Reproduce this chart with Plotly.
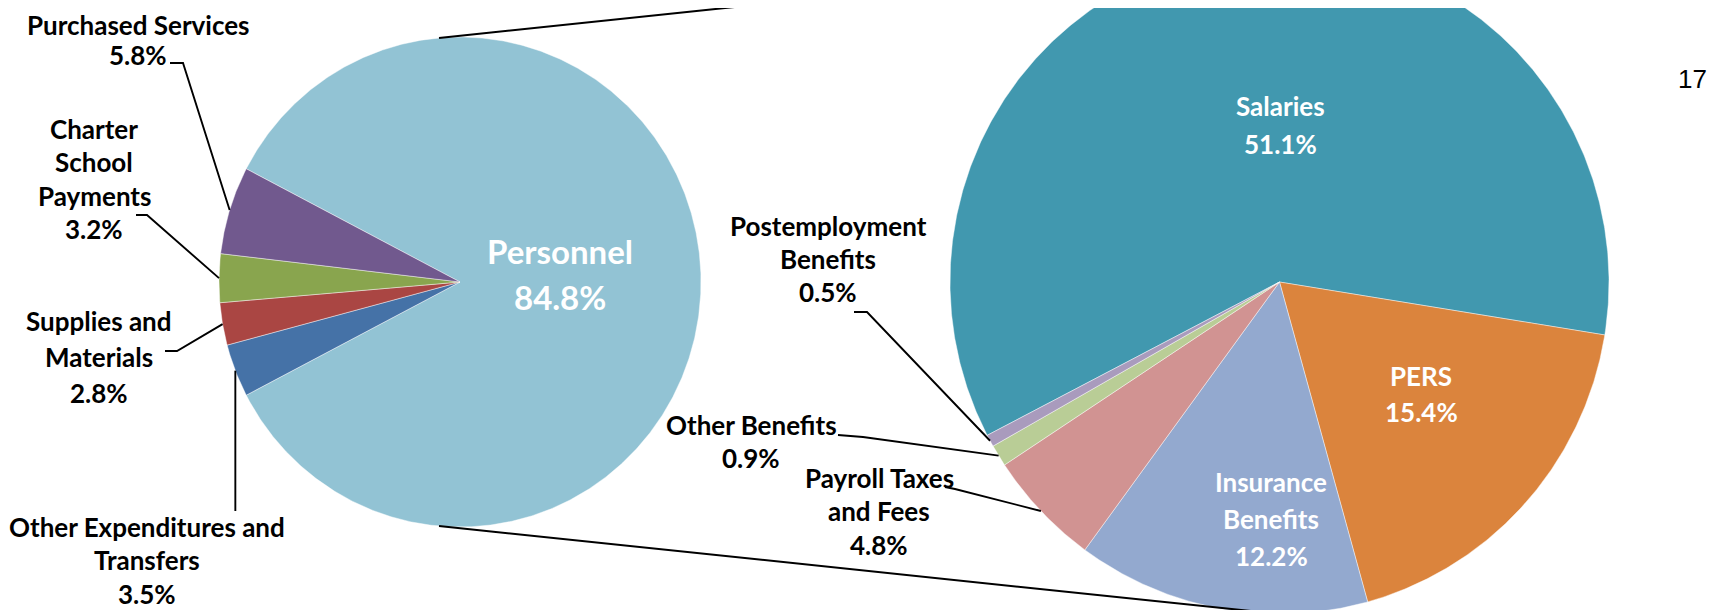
import numpy as np
import plotly.graph_objects as go

# ---------------- data ----------------
main_labels = ["Personnel", "Other Expenditures and Transfers", "Supplies and Materials",
               "Charter School Payments", "Purchased Services"]
main_values = [84.8, 3.5, 2.8, 3.2, 5.8]

sub_labels = ["Salaries", "PERS", "Insurance Benefits", "Payroll Taxes and Fees",
              "Other Benefits", "Postemployment Benefits"]
sub_values = [51.1, 15.4, 12.2, 4.8, 0.9, 0.5]

page_number = "17"

# ---------------- styling / layout ----------------
PAGE_W, PAGE_H = 1719, 610
BODY = 8                      # default page margin of the html body
W, H = PAGE_W - BODY, PAGE_H - BODY

main_colors = ["#92C3D4", "#4572A7", "#AA4643", "#89A54E", "#71598E"]
sub_colors = ["#4198AF", "#DB843D", "#93A9CF", "#D19392", "#B9CD96", "#A99BBD"]

LEFT = dict(cx=460, cy=282, rx=241, ry=245)
RIGHT = dict(cx=1279.5, cy=282, rx=329.5, ry=332, start=242.5)

FONT = "Lato"
FS = 26

# line breaks + position (center x, first baseline, line step, size, color) in page pixels
label_style = {
    "Personnel": dict(lines=["Personnel"], x=560, y0=264, dy=46, size=33, color="white"),
    "Purchased Services": dict(lines=["Purchased Services"], x=138, y0=35, dy=30),
    "Charter School Payments": dict(lines=["Charter", "School", "Payments"], x=94, y0=139, dy=33.5),
    "Supplies and Materials": dict(lines=["Supplies and", "Materials"], x=99, y0=331, dy=36),
    "Other Expenditures and Transfers": dict(lines=["Other Expenditures and", "Transfers"], x=147, y0=537, dy=33.5),
    "Salaries": dict(lines=["Salaries"], x=1280, y0=116, dy=38, color="white"),
    "PERS": dict(lines=["PERS"], x=1421, y0=386, dy=36, color="white"),
    "Insurance Benefits": dict(lines=["Insurance", "Benefits"], x=1271, y0=492, dy=37, color="white"),
    "Payroll Taxes and Fees": dict(lines=["Payroll Taxes", "and Fees"], x=879, y0=488, dy=33.5),
    "Other Benefits": dict(lines=["Other Benefits"], x=751, y0=435, dy=33),
    "Postemployment Benefits": dict(lines=["Postemployment", "Benefits"], x=828, y0=236, dy=33),
}

# leader-line anchor points near the label (start, knee); end is on the slice edge
leaders = {
    "Purchased Services": [(170, 63), (183, 63)],
    "Charter School Payments": [(136, 215), (147, 215)],
    "Supplies and Materials": [(165, 351), (177, 351)],
    "Other Expenditures and Transfers": "vertical:511",
    "Postemployment Benefits": [(854, 312), (867, 312)],
    "Other Benefits": [(838, 435), (863, 437)],
    "Payroll Taxes and Fees": [(945, 487), (955, 489)],
}


def pt(c, ang):
    t = np.radians(ang)
    return c["cx"] + c["rx"] * np.sin(t), c["cy"] - c["ry"] * np.cos(t)


def slices(values, start):
    tot = sum(values)
    out = []
    a = start
    for v in values:
        span = 360.0 * v / tot
        out.append((a, a + span))
        a += span
    return out


fig = go.Figure()


def add_pie(c, labels, values, colors, start):
    angs = slices(values, start)
    mids = {}
    for lab, (a0, a1), col in zip(labels, angs, colors):
        n = max(int((a1 - a0) / 0.4), 3)
        th = np.linspace(a0, a1, n)
        xs, ys = pt(c, th)
        X = np.concatenate([[c["cx"]], xs, [c["cx"]]])
        Y = np.concatenate([[c["cy"]], ys, [c["cy"]]])
        fig.add_trace(go.Scatter(x=X, y=Y, mode="lines", fill="toself", fillcolor=col,
                                 line=dict(color="rgba(255,255,255,0.55)", width=0.8),
                                 hoverinfo="text", text=lab, showlegend=False))
        mids[lab] = (a0 + a1) / 2
    return mids


main_total = sum(main_values)
left_start = 90 - 180.0 * main_values[0] / main_total
mids_left = add_pie(LEFT, main_labels, main_values, main_colors, left_start)
mids_right = add_pie(RIGHT, sub_labels, sub_values, sub_colors, RIGHT["start"])

# connector lines between the two pies
for a_left, a_right in [(355, 0), (185, 180)]:
    x0, y0 = pt(LEFT, a_left)
    x1, y1 = pt(RIGHT, a_right)
    fig.add_trace(go.Scatter(x=[x0, x1], y=[y0, y1], mode="lines",
                             line=dict(color="black", width=2), hoverinfo="skip", showlegend=False))

# leader lines
for lab, spec in leaders.items():
    if lab in mids_left:
        ex, ey = pt(LEFT, mids_left[lab])
    else:
        ex, ey = pt(RIGHT, mids_right[lab])
    if isinstance(spec, str):
        ybot = float(spec.split(":")[1])
        xs, ys = [ex, ex], [ybot, ey]
    else:
        xs = [p[0] for p in spec] + [ex]
        ys = [p[1] for p in spec] + [ey]
    fig.add_trace(go.Scatter(x=xs, y=ys, mode="lines", line=dict(color="black", width=1.9),
                             hoverinfo="skip", showlegend=False))

# labels
values_by_label = dict(zip(main_labels, main_values))
values_by_label.update(dict(zip(sub_labels, sub_values)))
annotations = []
for lab, st in label_style.items():
    size = st.get("size", FS)
    color = st.get("color", "black")
    lines = st["lines"] + [f"{values_by_label[lab]:.1f}%"]
    for i, ln in enumerate(lines):
        base = st["y0"] + i * st["dy"]
        annotations.append(dict(x=st["x"], y=base - 0.387 * size, xref="x", yref="y",
                                text=f"<b>{ln}</b>", showarrow=False,
                                xanchor="center", yanchor="middle",
                                font=dict(family=FONT, size=size, color=color)))

annotations.append(dict(x=1692, y=79, xref="x", yref="y", text=page_number, showarrow=False,
                        xanchor="center", yanchor="middle",
                        font=dict(family="Liberation Sans, Arial", size=26, color="black")))

fig.update_layout(
    width=W, height=H, margin=dict(l=0, r=0, t=0, b=0, pad=0),
    paper_bgcolor="white", plot_bgcolor="white", showlegend=False,
    xaxis=dict(range=[BODY, PAGE_W], visible=False, fixedrange=True),
    yaxis=dict(range=[PAGE_H, BODY], visible=False, fixedrange=True),
    annotations=annotations,
)

fig.write_html("out.html")
